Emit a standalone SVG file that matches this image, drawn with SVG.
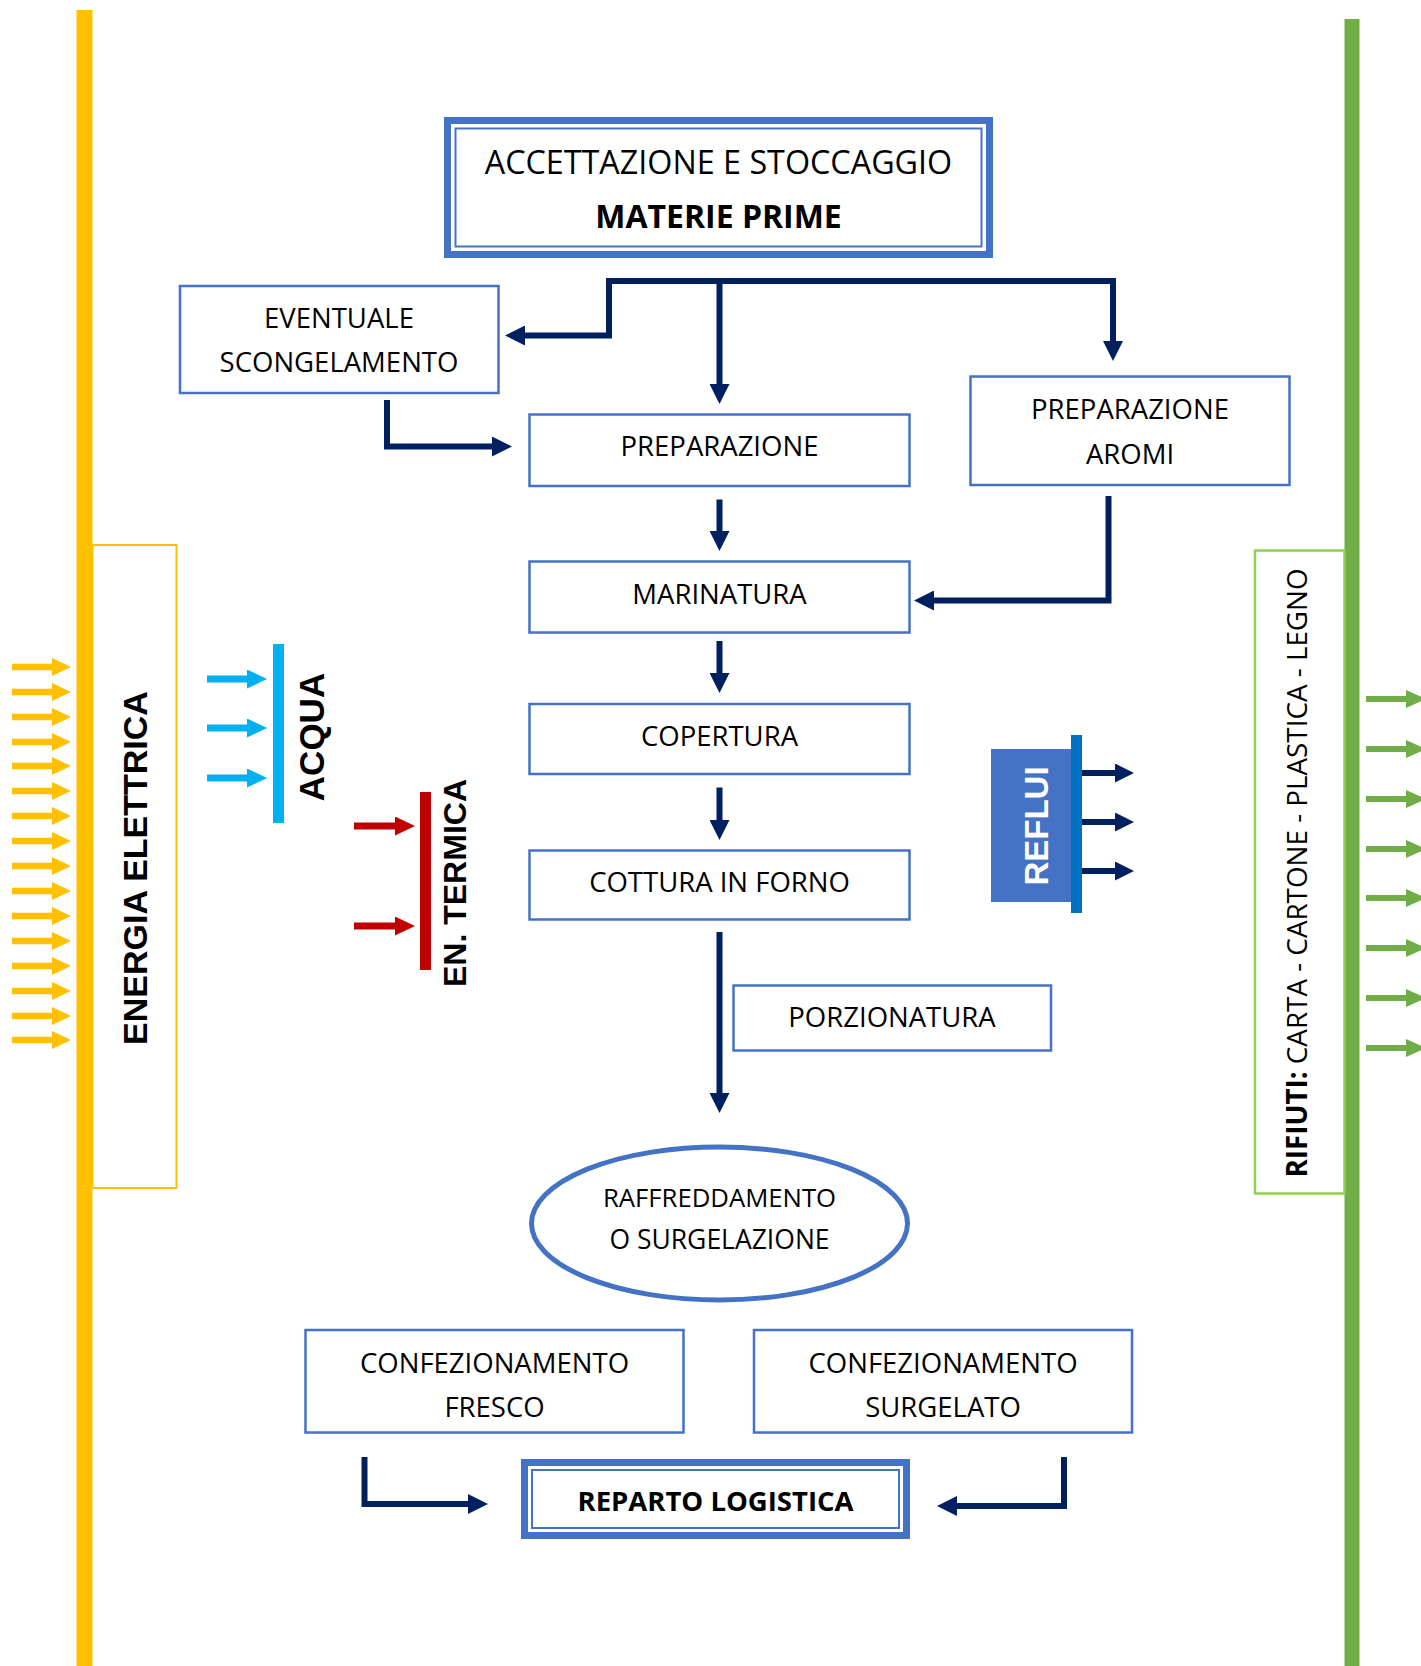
<svg xmlns="http://www.w3.org/2000/svg" width="1421" height="1666" viewBox="0 0 1421 1666">
<style>
.box{fill:#fff;stroke:#4472C4;stroke-width:2.5}
.lbl{font-family:"Open Sans","Noto Sans",sans-serif;font-size:27.5px;fill:#000;text-anchor:middle}
.bold{font-weight:bold}
.conn{fill:none;stroke:#002060;stroke-width:6;stroke-linejoin:miter}
.big{font-family:"Liberation Sans",Arial,sans-serif;font-weight:bold;text-anchor:middle;fill:#000}
</style>
<defs>
<marker id="mNavy" markerUnits="userSpaceOnUse" markerWidth="20" markerHeight="20" viewBox="0 0 20 20" refX="0" refY="10" orient="auto"><path d="M0,0 L20,10 L0,20 z" fill="#002060"/></marker>
<marker id="mNavyS" markerUnits="userSpaceOnUse" markerWidth="19" markerHeight="19" viewBox="0 0 19 19" refX="0" refY="9.5" orient="auto"><path d="M0,0 L19,9.5 L0,19 z" fill="#002060"/></marker>
<marker id="mYel" markerUnits="userSpaceOnUse" markerWidth="19" markerHeight="18" viewBox="0 0 19 18" refX="0" refY="9" orient="auto"><path d="M0,0 L19,9 L0,18 z" fill="#FFC000"/></marker>
<marker id="mBlue" markerUnits="userSpaceOnUse" markerWidth="20" markerHeight="19" viewBox="0 0 20 19" refX="0" refY="9.5" orient="auto"><path d="M0,0 L20,9.5 L0,19 z" fill="#00B0F0"/></marker>
<marker id="mRed" markerUnits="userSpaceOnUse" markerWidth="20" markerHeight="19" viewBox="0 0 20 19" refX="0" refY="9.5" orient="auto"><path d="M0,0 L20,9.5 L0,19 z" fill="#C00000"/></marker>
<marker id="mGreen" markerUnits="userSpaceOnUse" markerWidth="20" markerHeight="18" viewBox="0 0 20 18" refX="0" refY="9" orient="auto"><path d="M0,0 L20,9 L0,18 z" fill="#70AD47"/></marker>
</defs>
<rect width="1421" height="1666" fill="#fff"/>

<!-- Energia elettrica -->
<g id="energia">
<rect x="76.5" y="10" width="16" height="1656" fill="#FFC000"/>
<rect x="92.5" y="545" width="84" height="643" fill="none" stroke="#FFC000" stroke-width="2"/>
<g stroke="#FFC000" stroke-width="6.5" marker-end="url(#mYel)">
<line x1="12" y1="667" x2="52" y2="667"/>
<line x1="12" y1="692" x2="52" y2="692"/>
<line x1="12" y1="717" x2="52" y2="717"/>
<line x1="12" y1="742" x2="52" y2="742"/>
<line x1="12" y1="766" x2="52" y2="766"/>
<line x1="12" y1="791" x2="52" y2="791"/>
<line x1="12" y1="816" x2="52" y2="816"/>
<line x1="12" y1="841" x2="52" y2="841"/>
<line x1="12" y1="866" x2="52" y2="866"/>
<line x1="12" y1="891" x2="52" y2="891"/>
<line x1="12" y1="916" x2="52" y2="916"/>
<line x1="12" y1="941" x2="52" y2="941"/>
<line x1="12" y1="966" x2="52" y2="966"/>
<line x1="12" y1="991" x2="52" y2="991"/>
<line x1="12" y1="1016" x2="52" y2="1016"/>
<line x1="12" y1="1040" x2="52" y2="1040"/>
</g>
<text class="big" font-size="34" transform="translate(147,868) rotate(-90)">ENERGIA ELETTRICA</text>
</g>

<!-- Acqua -->
<g id="acqua">
<rect x="273" y="644" width="11" height="179" fill="#00B0F0"/>
<g stroke="#00B0F0" stroke-width="7" marker-end="url(#mBlue)">
<line x1="207" y1="679" x2="247" y2="679"/>
<line x1="207" y1="728" x2="247" y2="728"/>
<line x1="207" y1="778" x2="247" y2="778"/>
</g>
<text class="big" font-size="35" transform="translate(324,737) rotate(-90)">ACQUA</text>
</g>

<!-- En. termica -->
<g id="termica">
<rect x="420" y="792" width="11" height="178" fill="#C00000"/>
<g stroke="#C00000" stroke-width="7" marker-end="url(#mRed)">
<line x1="354" y1="826" x2="395" y2="826"/>
<line x1="354" y1="926" x2="395" y2="926"/>
</g>
<text class="big" font-size="32" transform="translate(466,883) rotate(-90)">EN. TERMICA</text>
</g>

<!-- Reflui -->
<g id="reflui">
<rect x="991" y="749" width="82" height="153" fill="#4472C4"/>
<rect x="1071" y="735" width="11" height="178" fill="#0070C0"/>
<g stroke="#002060" stroke-width="6" marker-end="url(#mNavyS)">
<line x1="1082" y1="773" x2="1115" y2="773"/>
<line x1="1082" y1="822" x2="1115" y2="822"/>
<line x1="1082" y1="871" x2="1115" y2="871"/>
</g>
<text class="big" font-size="33" style="fill:#fff" transform="translate(1048,826) rotate(-90)">REFLUI</text>
</g>

<!-- Rifiuti -->
<g id="rifiuti">
<rect x="1344.5" y="19" width="15" height="1647" fill="#70AD47"/>
<rect x="1255" y="550.5" width="89.5" height="643" fill="none" stroke="#92D050" stroke-width="2.5"/>
<g stroke="#70AD47" stroke-width="6" marker-end="url(#mGreen)">
<line x1="1366" y1="699" x2="1406" y2="699"/>
<line x1="1366" y1="749" x2="1406" y2="749"/>
<line x1="1366" y1="799" x2="1406" y2="799"/>
<line x1="1366" y1="849" x2="1406" y2="849"/>
<line x1="1366" y1="898" x2="1406" y2="898"/>
<line x1="1366" y1="948" x2="1406" y2="948"/>
<line x1="1366" y1="998" x2="1406" y2="998"/>
<line x1="1366" y1="1048" x2="1406" y2="1048"/>
</g>
<text class="lbl" style="font-size:27.8px" transform="translate(1307,873) rotate(-90)"><tspan class="bold">RIFIUTI:</tspan> CARTA - CARTONE - PLASTICA - LEGNO</text>
</g>

<!-- Nodes -->
<g id="accettazione">
<rect x="447.5" y="120.5" width="542" height="134" fill="#fff" stroke="#4472C4" stroke-width="7"/>
<rect x="455.5" y="128.5" width="526" height="118" fill="none" stroke="#4472C4" stroke-width="2"/>
<text class="lbl" style="font-size:32.3px" x="718.5" y="174">ACCETTAZIONE E STOCCAGGIO</text>
<text class="lbl bold" style="font-size:32px" x="718.5" y="228">MATERIE PRIME</text>
</g>
<g id="scongelamento">
<rect class="box" x="180" y="286" width="318.5" height="107"/>
<text class="lbl" x="339" y="328">EVENTUALE</text>
<text class="lbl" x="339" y="372">SCONGELAMENTO</text>
</g>
<g id="preparazione">
<rect class="box" x="529.5" y="414.5" width="380" height="71.5"/>
<text class="lbl" x="719.5" y="456">PREPARAZIONE</text>
</g>
<g id="aromi">
<rect class="box" x="970.5" y="376.5" width="319" height="108.5"/>
<text class="lbl" x="1130" y="419">PREPARAZIONE</text>
<text class="lbl" x="1130" y="464">AROMI</text>
</g>
<g id="marinatura">
<rect class="box" x="529.5" y="561.5" width="380" height="71"/>
<text class="lbl" x="719.5" y="604">MARINATURA</text>
</g>
<g id="copertura">
<rect class="box" x="529.5" y="704" width="380" height="70"/>
<text class="lbl" x="719.5" y="746">COPERTURA</text>
</g>
<g id="cottura">
<rect class="box" x="529.5" y="850.5" width="380" height="69"/>
<text class="lbl" x="719.5" y="892">COTTURA IN FORNO</text>
</g>
<g id="porzionatura">
<rect class="box" x="733.5" y="985.5" width="317.5" height="65"/>
<text class="lbl" x="892" y="1027">PORZIONATURA</text>
</g>
<g id="raffreddamento">
<ellipse cx="719.5" cy="1223.5" rx="188" ry="76.5" fill="#fff" stroke="#4472C4" stroke-width="5"/>
<text class="lbl" style="font-size:25.7px" x="719.5" y="1207">RAFFREDDAMENTO</text>
<text class="lbl" style="font-size:26.5px" x="719.5" y="1249">O SURGELAZIONE</text>
</g>
<g id="fresco">
<rect class="box" x="305.5" y="1330" width="378" height="102.5"/>
<text class="lbl" x="494.5" y="1373">CONFEZIONAMENTO</text>
<text class="lbl" x="494.5" y="1417">FRESCO</text>
</g>
<g id="surgelato">
<rect class="box" x="754" y="1330" width="378" height="102.5"/>
<text class="lbl" x="943" y="1373">CONFEZIONAMENTO</text>
<text class="lbl" x="943" y="1417">SURGELATO</text>
</g>
<g id="logistica">
<rect x="524.5" y="1462.5" width="382" height="73" fill="#fff" stroke="#4472C4" stroke-width="7"/>
<rect x="532" y="1470" width="367" height="58" fill="none" stroke="#4472C4" stroke-width="2"/>
<text class="lbl bold" x="715.5" y="1511">REPARTO LOGISTICA</text>
</g>

<!-- Connectors -->
<g id="connectors">
<path class="conn" d="M609,281 H1113"/>
<path class="conn" d="M609,278 V335.5 H525" marker-end="url(#mNavy)"/>
<path class="conn" d="M1113,278 V341" marker-end="url(#mNavy)"/>
<path class="conn" d="M719.5,278 V384" marker-end="url(#mNavy)"/>
<path class="conn" d="M387,400 V446.5 H492" marker-end="url(#mNavy)"/>
<path class="conn" d="M1108.5,496 V600.5 H934" marker-end="url(#mNavy)"/>
<path class="conn" d="M719.5,499.5 V531" marker-end="url(#mNavy)"/>
<path class="conn" d="M719.5,641 V673" marker-end="url(#mNavy)"/>
<path class="conn" d="M719.5,787.5 V820" marker-end="url(#mNavy)"/>
<path class="conn" d="M719.5,932 V1093" marker-end="url(#mNavy)"/>
<path class="conn" d="M364.5,1457 V1504 H468" marker-end="url(#mNavy)"/>
<path class="conn" d="M1064,1457 V1506 H957" marker-end="url(#mNavy)"/>
</g>
</svg>
